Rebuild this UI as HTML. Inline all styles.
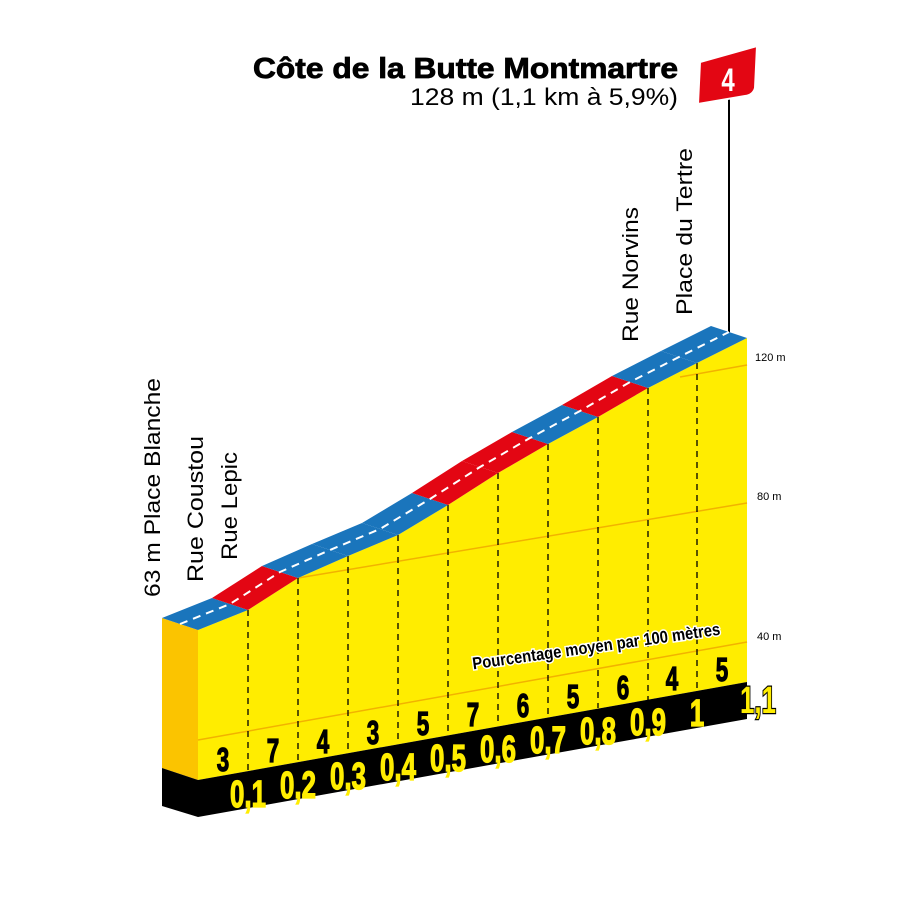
<!DOCTYPE html>
<html><head><meta charset="utf-8"><style>
html,body{margin:0;padding:0;background:#fff;}
svg{display:block}
.c{font-family:"Liberation Sans",sans-serif;font-weight:bold}
</style></head><body>
<svg width="900" height="901" viewBox="0 0 900 901" xmlns="http://www.w3.org/2000/svg">
<rect width="900" height="901" fill="#fff"/>
<text x="678" y="78" text-anchor="end" font-family="'Liberation Sans',sans-serif" font-weight="bold" font-size="29" fill="#000" stroke="#000" stroke-width="0.8" textLength="425" lengthAdjust="spacingAndGlyphs">Côte de la Butte Montmartre</text>
<text x="678" y="105" text-anchor="end" font-family="'Liberation Sans',sans-serif" font-size="24" fill="#000" textLength="268" lengthAdjust="spacingAndGlyphs">128 m (1,1 km à 5,9%)</text>
<line x1="729" y1="95" x2="729" y2="338" stroke="#000" stroke-width="2"/>
<path d="M700,62 L757,46 L755,88 Q753,95 745,96 L698,104 Z" fill="#e30613" stroke="#fff" stroke-width="2"/>
<text transform="translate(728,91) scale(0.75,1)" text-anchor="middle" class="c" font-size="32" fill="#fff">4</text>
<polygon points="162,618 198,630 198,780 162,768" fill="#fbc400"/>
<polygon points="198,630 248,610 298,578 348,556 398,535 448,505 498,473 548,444 598,417 648,388 697,363 747,338 747,682 198,780" fill="#ffed00"/>
<g stroke="#f2b200" stroke-width="1.5" fill="none">
<line x1="298" y1="578" x2="747" y2="503"/>
<line x1="198" y1="740" x2="747" y2="642"/>
<line x1="680" y1="377" x2="747" y2="365"/>
</g>
<g stroke="#000" stroke-width="1.3" stroke-dasharray="6,5">
<line x1="248" y1="610" x2="248" y2="771"/>
<line x1="298" y1="578" x2="298" y2="762"/>
<line x1="348" y1="556" x2="348" y2="753"/>
<line x1="398" y1="535" x2="398" y2="744"/>
<line x1="448" y1="505" x2="448" y2="735"/>
<line x1="498" y1="473" x2="498" y2="726"/>
<line x1="548" y1="444" x2="548" y2="717"/>
<line x1="598" y1="417" x2="598" y2="708"/>
<line x1="648" y1="388" x2="648" y2="700"/>
<line x1="697" y1="363" x2="697" y2="691"/>
</g>
<g>
<polygon points="198,630 248,610 212,598 162,618" fill="#1a75bc"/>
<polygon points="248,610 298,578 262,566 212,598" fill="#e30613"/>
<polygon points="298,578 348,556 312,544 262,566" fill="#1a75bc"/>
<polygon points="348,556 398,535 362,523 312,544" fill="#1a75bc"/>
<polygon points="398,535 448,505 412,493 362,523" fill="#1a75bc"/>
<polygon points="448,505 498,473 462,461 412,493" fill="#e30613"/>
<polygon points="498,473 548,444 512,432 462,461" fill="#e30613"/>
<polygon points="548,444 598,417 562,405 512,432" fill="#1a75bc"/>
<polygon points="598,417 648,388 612,376 562,405" fill="#e30613"/>
<polygon points="648,388 697,363 661,351 612,376" fill="#1a75bc"/>
<polygon points="697,363 747,338 711,326 661,351" fill="#1a75bc"/>
</g>
<polyline points="180,624 230,604 280,572 330,550 380,529 430,499 480,467 530,438 580,411 630,382 679,357 729,332" fill="none" stroke="#fff" stroke-width="2" stroke-dasharray="8,6"/>
<polygon points="162,768 198,780 198,817 162,806" fill="#000"/>
<polygon points="198,780 747,682 747,719 198,817" fill="#000"/>
<g font-family="'Liberation Sans',sans-serif" font-size="11" fill="#000">
<text x="755" y="361">120 m</text>
<text x="757" y="500">80 m</text>
<text x="757" y="640">40 m</text>
</g>
<g class="c" font-size="33" fill="#000" stroke="#000" stroke-width="1.2" text-anchor="middle">
<text transform="translate(223,771) scale(0.68,1)">3</text>
<text transform="translate(273,762) scale(0.68,1)">7</text>
<text transform="translate(323,753) scale(0.68,1)">4</text>
<text transform="translate(373,744) scale(0.68,1)">3</text>
<text transform="translate(423,735) scale(0.68,1)">5</text>
<text transform="translate(473,726) scale(0.68,1)">7</text>
<text transform="translate(523,717) scale(0.68,1)">6</text>
<text transform="translate(573,708) scale(0.68,1)">5</text>
<text transform="translate(623,699) scale(0.68,1)">6</text>
<text transform="translate(672,690) scale(0.68,1)">4</text>
<text transform="translate(722,681) scale(0.68,1)">5</text>
</g>
<g class="c" font-size="38" fill="#ffed00" stroke="#ffed00" stroke-width="1.3" text-anchor="middle">
<text transform="translate(248,807) scale(0.68,1)">0,1</text>
<text transform="translate(298,798) scale(0.68,1)">0,2</text>
<text transform="translate(348,789) scale(0.68,1)">0,3</text>
<text transform="translate(398,780) scale(0.68,1)">0,4</text>
<text transform="translate(448,771) scale(0.68,1)">0,5</text>
<text transform="translate(498,762) scale(0.68,1)">0,6</text>
<text transform="translate(548,753) scale(0.68,1)">0,7</text>
<text transform="translate(598,744) scale(0.68,1)">0,8</text>
<text transform="translate(648,735) scale(0.68,1)">0,9</text>
<text transform="translate(697,726) scale(0.68,1)">1</text>
<text transform="translate(758,713) scale(0.68,1)" stroke="#000" stroke-width="2.5" paint-order="stroke">1,1</text>
</g>
<text transform="translate(597,652) rotate(-8)" text-anchor="middle" class="c" font-size="17" fill="#000" stroke="#fff" stroke-width="3" paint-order="stroke" textLength="250" lengthAdjust="spacingAndGlyphs">Pourcentage moyen par 100 mètres</text>
<g font-family="'Liberation Sans',sans-serif" font-size="22" fill="#000">
<text transform="translate(160,597) rotate(-90)" textLength="219" lengthAdjust="spacingAndGlyphs">63 m Place Blanche</text>
<text transform="translate(203,582) rotate(-90)" textLength="146" lengthAdjust="spacingAndGlyphs">Rue Coustou</text>
<text transform="translate(237,560) rotate(-90)" textLength="108" lengthAdjust="spacingAndGlyphs">Rue Lepic</text>
<text transform="translate(638,342) rotate(-90)" textLength="135" lengthAdjust="spacingAndGlyphs">Rue Norvins</text>
<text transform="translate(692,315) rotate(-90)" textLength="167" lengthAdjust="spacingAndGlyphs">Place du Tertre</text>
</g>
</svg>
</body></html>
